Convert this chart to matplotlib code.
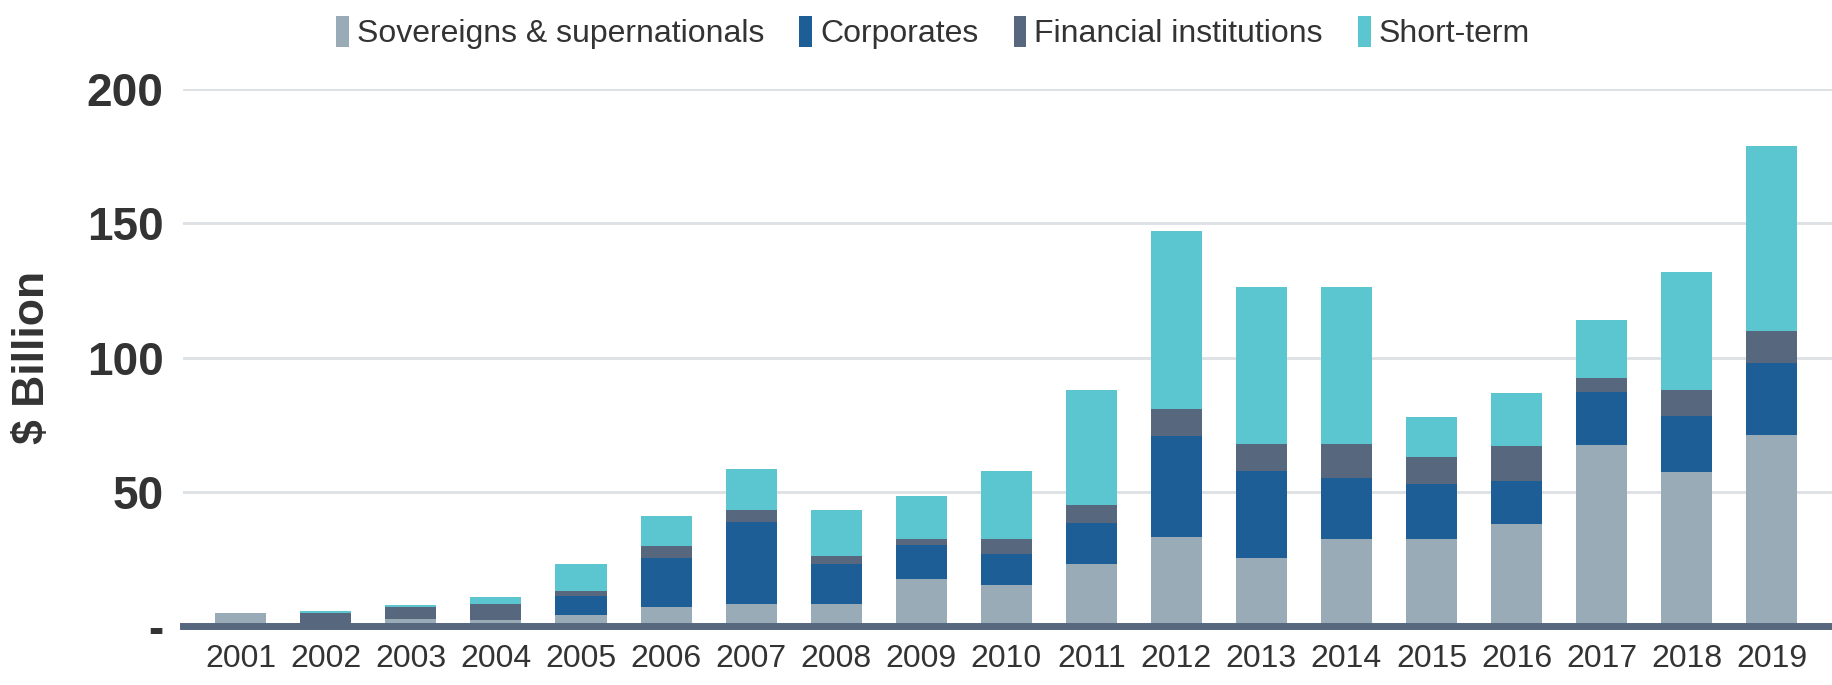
import numpy as np
import matplotlib.pyplot as plt

years = [str(y) for y in range(2001, 2020)]
sovereigns = [4.9, 1.0, 2.7, 2.1, 4.0, 7.0, 8.3, 8.3, 17.5, 15.3, 23.1, 33.2, 25.3, 32.3, 32.3, 38.0, 67.5, 57.5, 71.0]
corporates = [0.0, 0.0, 0.0, 0.0, 7.2, 18.3, 30.6, 14.8, 12.6, 11.7, 15.3, 37.5, 32.3, 22.7, 20.5, 16.1, 19.7, 20.7, 27.0]
financial = [0.0, 3.8, 4.4, 6.2, 2.0, 4.4, 4.3, 3.1, 2.2, 5.3, 6.6, 10.1, 10.1, 12.7, 10.1, 13.1, 5.1, 9.9, 11.9]
short_term = [0.0, 0.7, 0.7, 2.4, 10.0, 11.3, 15.3, 17.0, 16.2, 25.3, 42.8, 66.4, 58.5, 58.5, 14.8, 19.7, 21.8, 43.8, 68.9]

labels = ["Sovereigns & supernationals", "Corporates", "Financial institutions", "Short-term"]
colors = ["#9aabb8", "#1e5e96", "#56677e", "#5cc6d0"]
yticks = [0, 50, 100, 150, 200]
ytick_labels = ["-", "50", "100", "150", "200"]

plt.rcParams['font.family'] = ['Liberation Sans', 'DejaVu Sans']

fig = plt.figure(figsize=(18.33, 6.85), dpi=100)
ax = fig.add_axes([0.0998, 0.086, 0.9002, 0.784])

x = np.arange(len(years))
bottom = np.zeros(len(years))
for vals, lab, col in zip([sovereigns, corporates, financial, short_term], labels, colors):
    ax.bar(x, vals, 0.6, bottom=bottom, color=col, label=lab, zorder=3)
    bottom += np.array(vals)

ax.set_xlim(-0.68, 18.72)
ax.set_ylim(0, 200)
ax.set_yticks(yticks)
ax.set_yticklabels(ytick_labels, fontsize=33, fontweight='bold', color='#333333')
ax.set_xticks(x)
ax.set_xticklabels(years, fontsize=23, color='#333333')
ax.tick_params(axis='both', length=0)
ax.tick_params(axis='y', pad=14)
ax.tick_params(axis='x', pad=13)
ax.grid(axis='y', color='#dde0e4', linewidth=2, zorder=0)
for s in ['top', 'right', 'left']:
    ax.spines[s].set_visible(False)
ax.spines['bottom'].set_color('#56677e')
ax.spines['bottom'].set_linewidth(5)
ax.spines['bottom'].set_zorder(4)

ax.set_ylabel("$ Billion", fontsize=32, fontweight='bold', color='#333333')
ax.yaxis.set_label_coords(-0.079, 0.5)

fig.legend(loc='center', bbox_to_anchor=(0.509, 0.952), ncol=4, frameon=False,
           fontsize=23, handlelength=0.4, handleheight=1.1, handletextpad=0.25,
           columnspacing=1.1, labelcolor='#333333')

fig.savefig('out.png')
